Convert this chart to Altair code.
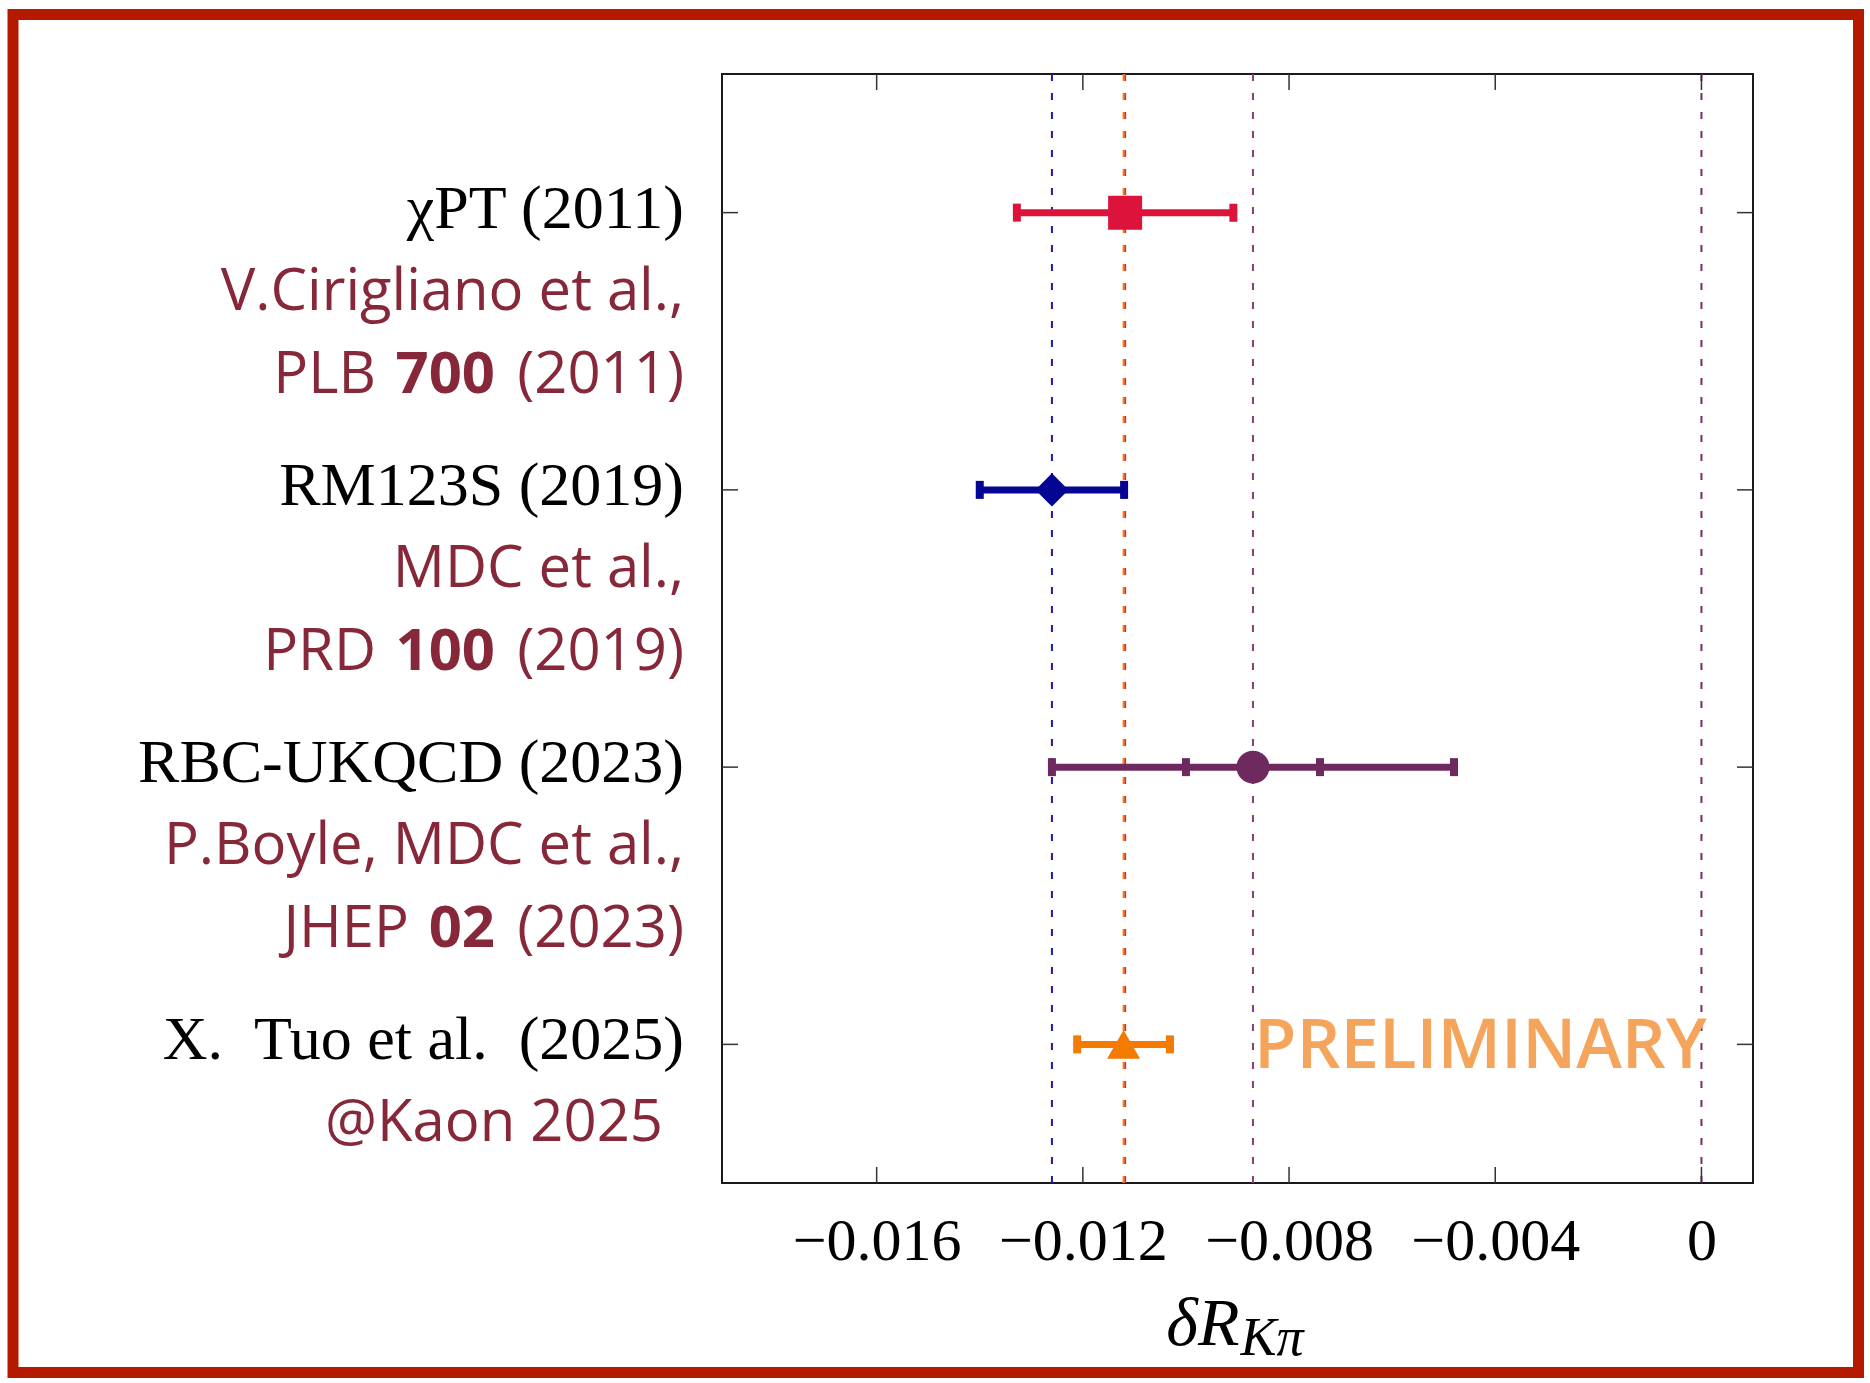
import altair as alt
import pandas as pd

# ---------------- data ----------------
row_keys = ["chipt", "rm123s", "rbc", "tuo"]
main_labels = ["χPT (2011)", "RM123S (2019)", "RBC-UKQCD (2023)", "X.\u2002Tuo et al.\u2002(2025)"]
ref_authors = ["V.Cirigliano et al.,", "MDC et al.,", "P.Boyle, MDC et al.,", "@Kaon 2025"]
ref_journal = ["PLB", "PRD", "JHEP", ""]
ref_volume = ["700", "100", "02", ""]
ref_year = ["2011", "2019", "2023", ""]
centers = [-0.01118, -0.0126, -0.0087, -0.01121]
err_total = [0.0021, 0.0014, 0.0039, 0.0009]
err_stat = [0.0, 0.0, 0.0013, 0.0]
x_ticks = [-0.016, -0.012, -0.008, -0.004, 0.0]
zero_line = [0.0]
prelim_text = ["PRELIMINARY"]
prelim_x = [-0.00868]
title_main = "δR"
title_sub = "Kπ"

# ---------------- styles ----------------
style = {
    "chipt": {"shape": "square", "size": 1156, "color": "#dc143c"},
    "rm123s": {"shape": "diamond", "size": 1100, "color": "#050593"},
    "rbc": {"shape": "circle", "size": 1089, "color": "#6e2a5e"},
    "tuo": {"shape": "triangle-up", "size": 1089, "color": "#f47a00"},
}
dash_colors = {"chipt": "#e0203c", "rm123s": "#1a1ab0", "rbc": "#85407a", "tuo": "#f4801a"}
REF_COLOR = "#862839"
W, H = 1031, 1109

main = pd.DataFrame({
    "key": row_keys,
    "main": main_labels,
    "auth": ref_authors,
    "jour": ref_journal,
    "c": centers,
    "lo": [c - e for c, e in zip(centers, err_total)],
    "hi": [c + e for c, e in zip(centers, err_total)],
    "shape": [style[k]["shape"] for k in row_keys],
    "size": [style[k]["size"] for k in row_keys],
    "color": [style[k]["color"] for k in row_keys],
})

caps_rows = []
for k, c, et, es in zip(row_keys, centers, err_total, err_stat):
    for e in (et, es):
        if e > 0:
            caps_rows.append({"key": k, "pos": c - e, "color": style[k]["color"]})
            caps_rows.append({"key": k, "pos": c + e, "color": style[k]["color"]})
caps = pd.DataFrame(caps_rows)

dashes = pd.DataFrame({
    "c": centers + zero_line,
    "color": [dash_colors[k] for k in row_keys] + ["#7a2a6e"],
})

refs = pd.DataFrame({
    "key": row_keys, "jour": ref_journal, "vol": ref_volume, "year": ref_year,
})
refs = refs[refs["jour"] != ""].copy()
refs["suffix"] = "\u2002(" + refs["year"] + ")"
refs["nd"] = refs["vol"].str.len()

ticks_df = pd.DataFrame({"t": x_ticks})
rows_df = pd.DataFrame({"key": row_keys})
prelim = pd.DataFrame({"key": ["tuo"], "px": prelim_x, "txt": prelim_text})
one = pd.DataFrame({"a": [0]})

xscale = alt.Scale(domain=[-0.019, 0.001], nice=False, zero=False)
xaxis = alt.Axis(values=x_ticks, format="~g", title="", ticks=False, tickSize=0,
                 domain=False, grid=False, labelFont="Liberation Serif",
                 labelFontSize=60, labelColor="#000000", labelPadding=76,
                 labelBaseline="alphabetic", labelFlush=False, labelOverlap=False)
yscale = alt.Scale(type="point", domain=row_keys, padding=0.5)


def X(f):
    return alt.X(f, type="quantitative", scale=xscale, axis=xaxis)


Y = alt.Y("key:N", scale=yscale, axis=None)
COL = alt.Color("color:N", scale=None)

layers = []
# dashed reference lines
layers.append(alt.Chart(dashes).mark_rule(strokeDash=[7, 12], strokeWidth=2).encode(
    x=X("c"), color=COL))
# error bars
layers.append(alt.Chart(main).mark_rule(strokeWidth=7).encode(
    x=X("lo"), x2="hi", y=Y, color=COL))
layers.append(alt.Chart(caps).mark_tick(thickness=8, size=18, opacity=1).encode(
    x=X("pos"), y=Y, color=COL))
# markers
layers.append(alt.Chart(main).mark_point(filled=True, opacity=1).encode(
    x=X("c"), y=Y, color=COL,
    shape=alt.Shape("shape:N", scale=None),
    size=alt.Size("size:Q", scale=None)))
# inward frame ticks
TICK_COL = "#333333"
layers.append(alt.Chart(ticks_df).mark_rule(color=TICK_COL, strokeWidth=1.5).encode(
    x=X("t"), y=alt.value(H), y2=alt.value(H - 16)))
layers.append(alt.Chart(ticks_df).mark_rule(color=TICK_COL, strokeWidth=1.5).encode(
    x=X("t"), y=alt.value(0), y2=alt.value(16)))
layers.append(alt.Chart(rows_df).mark_rule(color=TICK_COL, strokeWidth=1.5).encode(
    y=Y, x=alt.value(0), x2=alt.value(16)))
layers.append(alt.Chart(rows_df).mark_rule(color=TICK_COL, strokeWidth=1.5).encode(
    y=Y, x=alt.value(W - 16), x2=alt.value(W)))
# PRELIMINARY
layers.append(alt.Chart(prelim).mark_text(
    align="left", baseline="alphabetic", font="Open Sans", fontWeight=600,
    fontSize=69, color="#f5a55b", dy=24).encode(x=X("px"), y=Y, text="txt:N"))
# left labels
layers.append(alt.Chart(main).mark_text(
    align="right", baseline="alphabetic", font="Liberation Serif", fontSize=62,
    color="#000000", dy=15).encode(x=alt.value(-38), y=Y, text="main:N"))
REF_X = -38
layers.append(alt.Chart(main[main["jour"] != ""]).mark_text(
    align="right", baseline="alphabetic", font="Open Sans", fontSize=58,
    color=REF_COLOR, dy=97).encode(x=alt.value(REF_X), y=Y, text="auth:N"))
layers.append(alt.Chart(main[main["jour"] == ""]).mark_text(
    align="right", baseline="alphabetic", font="Open Sans", fontSize=58,
    color=REF_COLOR, dy=97).encode(x=alt.value(REF_X - 21), y=Y, text="auth:N"))
SUFFIX_W = 189
DIGIT_W = 33
GAP = 20
layers.append(alt.Chart(refs).mark_text(
    align="right", baseline="alphabetic", font="Open Sans", fontSize=58,
    color=REF_COLOR, dy=180).encode(x=alt.value(REF_X), y=Y, text="suffix:N"))
layers.append(alt.Chart(refs).mark_text(
    align="right", baseline="alphabetic", font="Open Sans", fontSize=58,
    fontWeight="bold", color=REF_COLOR, dy=180).encode(
    x=alt.value(REF_X - SUFFIX_W), y=Y, text="vol:N"))
for n in sorted(refs["nd"].unique()):
    sub = refs[refs["nd"] == n]
    layers.append(alt.Chart(sub).mark_text(
        align="right", baseline="alphabetic", font="Open Sans", fontSize=58,
        color=REF_COLOR, dy=180).encode(
        x=alt.value(REF_X - SUFFIX_W - int(n) * DIGIT_W - GAP), y=Y, text="jour:N"))
# x-axis title with subscript
layers.append(alt.Chart(pd.DataFrame({"t": [title_main]})).mark_text(
    align="right", baseline="alphabetic", font="Liberation Serif", fontStyle="italic",
    fontSize=68, color="#000000").encode(
    x=alt.value(W / 2 + 2), y=alt.value(H + 162), text="t:N"))
layers.append(alt.Chart(pd.DataFrame({"t": [title_sub]})).mark_text(
    align="left", baseline="alphabetic", font="Liberation Serif", fontStyle="italic",
    fontSize=54, color="#000000").encode(
    x=alt.value(W / 2 + 3), y=alt.value(H + 172), text="t:N"))
# outer red frame
layers.append(alt.Chart(one).mark_rect(fill="transparent", stroke="#b51a00", strokeWidth=11).encode(
    x=alt.value(-709), x2=alt.value(1136.5), y=alt.value(-59.5), y2=alt.value(1298.5)))

chart = alt.layer(*layers).properties(
    width=W, height=H,
    padding={"left": 7, "top": 9, "right": 0, "bottom": 0},
    background="white",
).configure_view(stroke="#1a1a1a", strokeWidth=2)

chart.save("out.html", embed_options={"renderer": "svg", "actions": False})
